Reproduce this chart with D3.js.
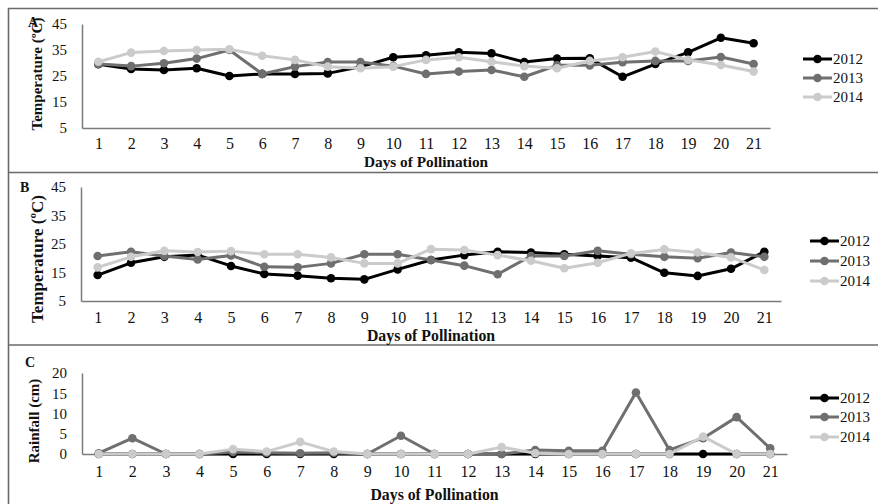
<!DOCTYPE html>
<html>
<head>
<meta charset="utf-8">
<script src="https://cdn.jsdelivr.net/npm/d3@7"></script>
<style>
  html, body { margin: 0; padding: 0; background: #fff; }
  svg { display: block; }
  text { font-family: "Liberation Serif", "Times New Roman", serif; fill: #111; }
</style>
</head>
<body>
<svg id="chart" width="878" height="504"></svg>
<script>
const days = d3.range(1, 22);
const years = ["2012", "2013", "2014"];

// Panel A: maximum temperature (°C)
const tempMax2012 = [29.5, 27.7, 27.3, 28.0, 25.0, 25.8, 25.8, 26.0, 28.5, 32.2, 33.0, 34.1, 33.7, 30.4, 31.7, 31.8, 24.7, 29.6, 34.1, 39.7, 37.6];
const tempMax2013 = [29.6, 28.8, 29.9, 31.7, 35.0, 25.8, 28.6, 30.4, 30.4, 28.8, 25.8, 26.7, 27.3, 24.7, 29.1, 29.1, 30.3, 30.8, 30.8, 32.3, 29.6];
const tempMax2014 = [30.5, 34.0, 34.6, 35.0, 35.3, 32.8, 31.2, 28.6, 28.0, 28.6, 31.2, 32.2, 30.5, 28.8, 28.0, 30.8, 32.2, 34.4, 31.2, 29.2, 26.7];

// Panel B: minimum temperature (°C)
const tempMin2012 = [14.1, 18.4, 20.5, 21.1, 17.3, 14.5, 13.9, 13.0, 12.6, 16.1, 19.4, 21.1, 22.3, 22.0, 21.4, 20.8, 20.2, 14.9, 13.8, 16.3, 22.3];
const tempMin2013 = [20.8, 22.3, 20.8, 19.6, 21.0, 17.0, 16.8, 18.2, 21.4, 21.4, 19.4, 17.4, 14.4, 20.8, 20.8, 22.6, 21.4, 20.5, 20.0, 22.0, 20.5];
const tempMin2014 = [16.8, 20.5, 22.6, 22.2, 22.5, 21.4, 21.4, 20.3, 18.2, 18.2, 23.2, 22.9, 21.1, 19.1, 16.5, 18.4, 21.7, 23.1, 22.0, 20.3, 15.9];

// Panel C: rainfall (cm)
const rain2012 = [0, 0, 0, 0, 0, 0, 0, 0, 0, 0, 0, 0, 0, 0, 0, 0, 0, 0, 0, 0, 0];
const rain2013 = [0.2, 3.9, 0, 0, 0.5, 0.3, 0.2, 0.3, 0, 4.5, 0, 0, 0, 1.0, 0.8, 0.8, 15.2, 1.0, 3.9, 9.1, 1.4];
const rain2014 = [0, 0, 0, 0, 1.2, 0.6, 3.0, 0.6, 0, 0, 0, 0, 1.7, 0.2, 0, 0, 0, 0, 4.3, 0, 0];

const tempTicks = [5, 15, 25, 35, 45];
const rainTicks = [0, 5, 10, 15, 20];

const colors = { "2012": "#000000", "2013": "#6f6f6f", "2014": "#cbcbcb" };

const panels = [
  { label: "A", title: "Temperature (ºC)", series: [tempMax2012, tempMax2013, tempMax2014],
    domain: [5, 45], ticks: tempTicks,
    x0: 82, x1: 770, yTop: 24, yBot: 128, xPad: 10, xTitleY: 167, titleSize: 15.3,
    yTitleX: 37, yTitleY: 74, yTitleSize: 15, labelX: 28, labelY: 27,
    legX: 803, legY: [59, 78, 97] },
  { label: "B", title: "Temperature (ºC)", series: [tempMin2012, tempMin2013, tempMin2014],
    domain: [5, 45], ticks: tempTicks,
    x0: 81, x1: 781, yTop: 187, yBot: 301, xPad: 11, xTitleY: 341, titleSize: 15.8,
    yTitleX: 37, yTitleY: 259, yTitleSize: 17, labelX: 20, labelY: 192,
    legX: 810, legY: [241, 261, 281] },
  { label: "C", title: "Rainfall (cm)", series: [rain2012, rain2013, rain2014],
    domain: [0, 20], ticks: rainTicks,
    x0: 82, x1: 787, yTop: 373, yBot: 454, xPad: 12, xTitleY: 500, titleSize: 15.8,
    yTitleX: 34, yTitleY: 421, yTitleSize: 15, labelX: 25, labelY: 367,
    legX: 810, legY: [398, 417, 437] }
];

const svg = d3.select("#chart");

// Frame / separators
const frame = svg.append("g").attr("stroke", "#6a6a6a").attr("stroke-width", 1.6).attr("fill", "none");
frame.append("line").attr("x1", 8).attr("x2", 878).attr("y1", 8.5).attr("y2", 8.5);
frame.append("line").attr("x1", 8).attr("x2", 878).attr("y1", 172.5).attr("y2", 172.5);
frame.append("line").attr("x1", 8).attr("x2", 878).attr("y1", 345).attr("y2", 345);
frame.append("line").attr("x1", 8.5).attr("x2", 8.5).attr("y1", 8).attr("y2", 504);

panels.forEach(p => {
  const g = svg.append("g");
  const x = d3.scalePoint().domain(days).range([p.x0, p.x1]).padding(0.5);
  const y = d3.scaleLinear().domain(p.domain).range([p.yBot, p.yTop]);

  // Y axis
  const ya = g.append("g").attr("transform", `translate(${p.x0},0)`)
    .call(d3.axisLeft(y).tickValues(p.ticks).tickSize(0).tickPadding(15));
  ya.select(".domain").attr("stroke", "#7a7a7a").attr("stroke-width", 1.5);
  ya.selectAll("text").style("font-size", "15px").style("font-family", "'Liberation Serif', serif").attr("fill", "#111");

  // X axis
  const xa = g.append("g").attr("transform", `translate(0,${p.yBot})`)
    .call(d3.axisBottom(x).tickSize(0).tickPadding(p.xPad));
  xa.select(".domain").attr("stroke", "#7a7a7a").attr("stroke-width", 1.5);
  xa.selectAll("text").style("font-size", "16px").style("font-family", "'Liberation Serif', serif").attr("fill", "#111");

  // Titles
  g.append("text").attr("x", (p.x0 + p.x1) / 2).attr("y", p.xTitleY)
    .attr("text-anchor", "middle").style("font-weight", "bold").style("font-size", p.titleSize + "px")
    .text("Days of Pollination");
  g.append("text").attr("transform", `translate(${p.yTitleX},${p.yTitleY}) rotate(-90)`)
    .attr("text-anchor", "middle").attr("dy", "0.35em").style("font-weight", "bold").style("font-size", p.yTitleSize + "px")
    .text(p.title);
  g.append("text").attr("x", p.labelX).attr("y", p.labelY)
    .style("font-weight", "bold").style("font-size", "14px").text(p.label);

  // Series
  const line = d3.line().x((d, i) => x(days[i])).y(d => y(d));
  p.series.forEach((vals, si) => {
    const c = colors[years[si]];
    const sg = g.append("g");
    sg.append("path").datum(vals).attr("d", line)
      .attr("fill", "none").attr("stroke", c).attr("stroke-width", 3).attr("stroke-linejoin", "round");
    sg.selectAll("circle").data(vals).join("circle")
      .attr("cx", (d, i) => x(days[i])).attr("cy", d => y(d)).attr("r", 4.3).attr("fill", c);
  });

  // Legend
  years.forEach((yr, i) => {
    const ly = p.legY[i];
    const lg = g.append("g");
    lg.append("line").attr("x1", p.legX).attr("x2", p.legX + 29).attr("y1", ly).attr("y2", ly)
      .attr("stroke", colors[yr]).attr("stroke-width", 3);
    lg.append("circle").attr("cx", p.legX + 14.5).attr("cy", ly).attr("r", 4.3).attr("fill", colors[yr]);
    lg.append("text").attr("x", p.legX + 30).attr("y", ly).attr("dy", "0.35em")
      .style("font-size", "15px").text(yr);
  });
});
</script>
</body>
</html>
